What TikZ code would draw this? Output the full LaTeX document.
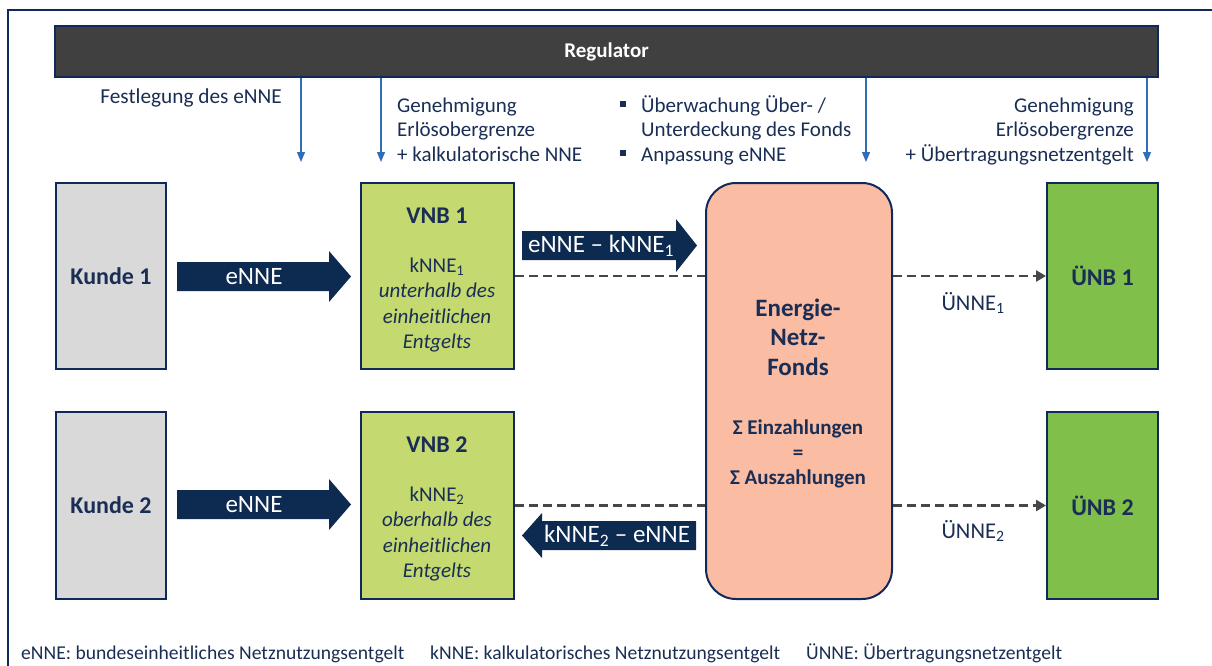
\documentclass[tikz,border=0pt]{standalone}
\usepackage{fontspec}
\setmainfont{Carlito}
\usetikzlibrary{arrows.meta}
\definecolor{navy}{HTML}{10295A}
\definecolor{txt}{HTML}{1A2E55}
\definecolor{kundegray}{HTML}{D9D9D9}
\definecolor{vnbgreen}{HTML}{C4D970}
\definecolor{unbgreen}{HTML}{7FBF4A}
\definecolor{fondsfill}{HTML}{FBBCA4}
\definecolor{regfill}{HTML}{404040}
\definecolor{blockcol}{HTML}{0D2A50}
\definecolor{regarrow}{HTML}{2F6EBA}
\definecolor{dashcol}{HTML}{474747}
\newcommand{\fs}[2]{\fontsize{#1}{#2}\selectfont}
\begin{document}
\begin{tikzpicture}[x=1pt,y=-1pt,
  box/.style={draw=navy, line width=2pt, anchor=north west, inner sep=0pt},
  lbl/.style={text=txt, inner sep=0pt},
  regline/.style={draw=regarrow, line width=1.2pt, -{Triangle[width=8pt,length=10pt]}},
  dashline/.style={draw=dashcol, line width=2.5pt, dash pattern=on 9pt off 5pt},
  dasharrow/.style={dashline, -{Triangle[width=11pt,length=10pt]}},
  blockarrow/.style={fill=blockcol, draw=none},
  arrowtext/.style={text=white, inner sep=0pt, font=\fs{25}{29}},
  bullet/.style={fill=txt, minimum size=6pt, inner sep=0pt}
]
\useasboundingbox (0,0) rectangle (1212,666);
% outer frame
\draw[navy, line width=2.5pt] (8,666) -- (8,10) -- (1212,10);

% Regulator bar
\node[box, fill=regfill, minimum width=1103pt, minimum height=51pt] (reg) at (54,25) {};
\node[text=white, font=\bfseries\fs{21}{25}] (regt) at (reg.center) {Regulator};

% boxes
\node[box, fill=kundegray, minimum width=110pt, minimum height=186pt] (k1) at (55,182) {};
\node[box, fill=vnbgreen, minimum width=153pt, minimum height=186pt] (v1) at (360,182) {};
\node[box, fill=unbgreen, minimum width=111pt, minimum height=186pt] (u1) at (1046,182) {};
\node[box, fill=kundegray, minimum width=110pt, minimum height=187pt] (k2) at (55,411) {};
\node[box, fill=vnbgreen, minimum width=153pt, minimum height=187pt] (v2) at (360,411) {};
\node[box, fill=unbgreen, minimum width=111pt, minimum height=187pt] (u2) at (1046,411) {};
\node[box, fill=fondsfill, rounded corners=30pt, minimum width=186pt, minimum height=416pt] (fonds) at (705,182) {};

% box texts
\node[lbl, font=\bfseries\fs{24}{28}] (k1t) at (k1.center) {Kunde 1};
\node[lbl, font=\bfseries\fs{24}{28}] (k2t) at (k2.center) {Kunde 2};
\node[lbl, font=\bfseries\fs{24}{28}] (u1t) at (u1.center) {ÜNB 1};
\node[lbl, font=\bfseries\fs{24}{28}] (u2t) at (u2.center) {ÜNB 2};
\node[lbl, font=\bfseries\fs{24}{28}] (v1h) at (437,216) {VNB 1};
\node[lbl, font=\bfseries\fs{24}{28}] (v2h) at (437,445) {VNB 2};
\node[lbl, font=\fs{21}{25.5}, align=center, anchor=base] (v1b) at (437,348.5)
  {kNNE\textsubscript{1}\\ \itshape unterhalb des\\ \itshape einheitlichen\\ \itshape Entgelts};
\node[lbl, font=\fs{21}{25.5}, align=center, anchor=base] (v2b) at (437,577.5)
  {kNNE\textsubscript{2}\\ \itshape oberhalb des\\ \itshape einheitlichen\\ \itshape Entgelts};
\node[lbl, font=\bfseries\fs{25}{29.5}, align=center, anchor=base] (ft1) at (798,375)
  {Energie-\\Netz-\\Fonds};
\node[lbl, font=\bfseries\fs{21}{25}, align=center, anchor=base] (ft2) at (798,484)
  {Σ Einzahlungen\\=\\Σ Auszahlungen};

% block arrows
\path[blockarrow] (177,262) -- (329,262) -- (329,251) -- (351,276.5) -- (329,302) -- (329,291) -- (177,291) -- cycle;
\node[arrowtext] (a1t) at (254,276.5) {eNNE};
\path[blockarrow] (177,490) -- (329,490) -- (329,479) -- (351,504.5) -- (329,530) -- (329,519) -- (177,519) -- cycle;
\node[arrowtext] (a2t) at (254,504.5) {eNNE};
\path[blockarrow] (522,231) -- (676,231) -- (676,219) -- (697,245.5) -- (676,272) -- (676,260) -- (522,260) -- cycle;
\node[arrowtext] (a3t) at (601,245.5) {eNNE – kNNE\textsubscript{1}};
\path[blockarrow] (696,521) -- (542,521) -- (542,513) -- (522,535.5) -- (542,558) -- (542,550) -- (696,550) -- cycle;
\node[arrowtext] (a4t) at (617,535.5) {kNNE\textsubscript{2} – eNNE};

% dashed connectors
\draw[dashline] (v1.east) -- (fonds.west |- v1.east);
\draw[dasharrow] (fonds.east |- u1.west) -- (u1.west);
\draw[dashline] (v2.east) -- (fonds.west |- v2.east);
\draw[dasharrow] (fonds.east |- u2.west) -- (u2.west);
\node[lbl, font=\fs{22.5}{26}] (un1) at (973,303) {ÜNNE\textsubscript{1}};
\node[lbl, font=\fs{22.5}{26}] (un2) at (973,531) {ÜNNE\textsubscript{2}};

% regulator arrows
\coordinate (r1) at (301,162);
\coordinate (r2) at (381,162);
\coordinate (r3) at (866,162);
\coordinate (r4) at (1147,162);
\draw[regline] (reg.south -| r1) -- (r1);
\draw[regline] (reg.south -| r2) -- (r2);
\draw[regline] (reg.south -| r3) -- (r3);
\draw[regline] (reg.south -| r4) -- (r4);

% regulator texts
\node[lbl, font=\fs{21.3}{24.5}, anchor=base east] (t1) at (282,104) {Festlegung des eNNE};
\node[lbl, font=\fs{21}{24.5}, anchor=base west, align=left] (t2) at (397,161)
  {Genehmigung\\Erlösobergrenze\\+ kalkulatorische NNE};
\node[lbl, font=\fs{21}{24.5}, anchor=base west, align=left] (t3) at (641,161)
  {Überwachung Über- /\\Unterdeckung des Fonds\\Anpassung eNNE};
\node[bullet] (b1) at (623,104) {};
\node[bullet] (b2) at (623,153) {};
\node[lbl, font=\fs{21}{24.5}, anchor=base east, align=right] (t4) at (1134,161)
  {Genehmigung\\Erlösobergrenze\\+ Übertragungsnetzentgelt};

% footer
\node[lbl, font=\fs{19.6}{22}, anchor=base west] (f1) at (21,659) {eNNE: bundeseinheitliches Netznutzungsentgelt};
\node[lbl, font=\fs{19.6}{22}, anchor=base west] (f2) at (430,659) {kNNE: kalkulatorisches Netznutzungsentgelt};
\node[lbl, font=\fs{19.6}{22}, anchor=base west] (f3) at (806,659) {ÜNNE: Übertragungsnetzentgelt};
\end{tikzpicture}
\end{document}
